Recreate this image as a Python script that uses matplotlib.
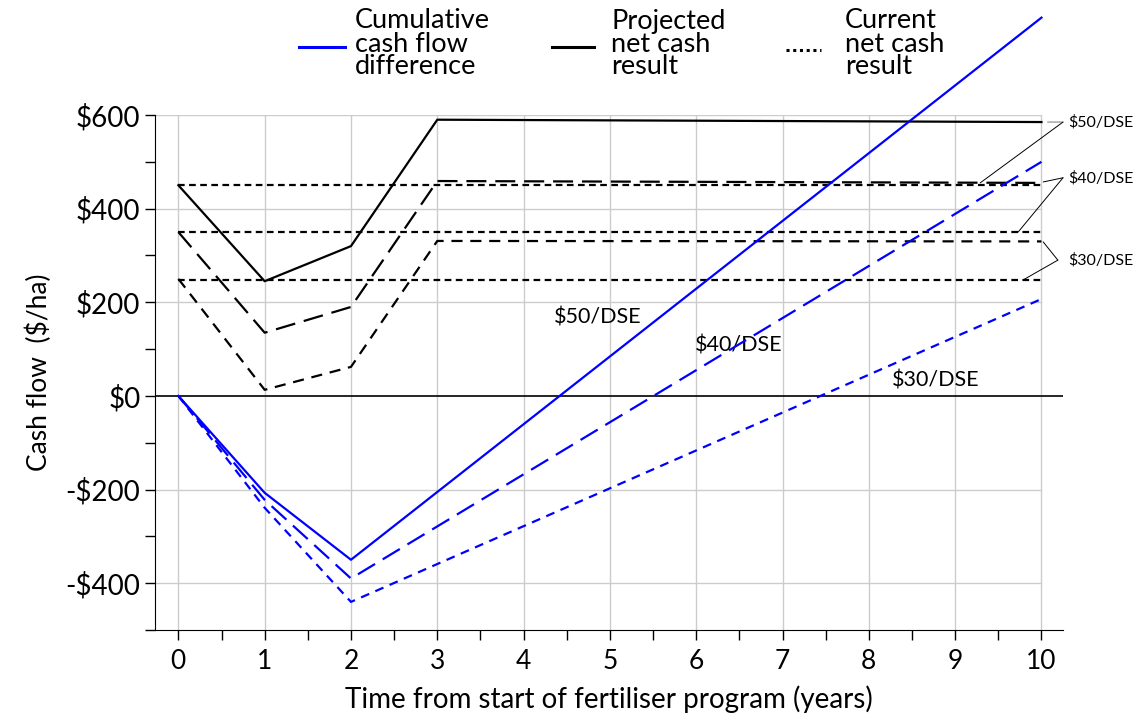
import matplotlib
matplotlib.use('Agg')
import matplotlib.pyplot as plt
from matplotlib.lines import Line2D
from matplotlib.ticker import MultipleLocator, FuncFormatter

plt.rcParams['font.family'] = ['Lato', 'DejaVu Sans']

# cumulative cash flow difference (blue), years 0,1,2 then straight to 10
cum_years = [0, 1, 2, 10]
cum_50 = [0, -207, -350, 808]
cum_40 = [0, -222, -390, 500]
cum_30 = [0, -239, -440, 207]

# projected net cash result (black)
proj_years = [0, 1, 2, 3, 10]
proj_50 = [450, 245, 320, 590, 585]
proj_40 = [350, 135, 190, 459, 455]
proj_30 = [250, 13, 62, 331, 330]

# current net cash result (flat)
cur_years = [0, 10]
cur_50 = 450
cur_40 = 350
cur_30 = 248

fig = plt.figure(figsize=(11.46, 7.18), dpi=100)
ax = fig.add_axes([0.1353, 0.1226, 0.7923, 0.7172])

blue = '#0000FF'
lw = 1.6

# gridlines
for y in [-400, -200, 200, 400, 600]:
    ax.plot([-0.27, 10], [y, y], color='#cccccc', lw=1, zorder=0)
for x in range(0, 11):
    ax.axvline(x, color='#cccccc', lw=1, zorder=0)
ax.axhline(0, color='black', lw=1.2, zorder=1)

# current net cash (short dashes)
for v in [cur_50, cur_40, cur_30]:
    ax.plot(cur_years, [v, v], color='black', lw=lw, dashes=(3, 2), zorder=2)

# projected
ax.plot(proj_years, proj_50, color='black', lw=lw, zorder=3)
ax.plot(proj_years, proj_40, color='black', lw=lw, dashes=(9, 4), zorder=3)
ax.plot(proj_years, proj_30, color='black', lw=lw, dashes=(5, 3.5), zorder=3)

# cumulative
ax.plot(cum_years, cum_50, color=blue, lw=lw, clip_on=False, zorder=4)
ax.plot(cum_years, cum_40, color=blue, lw=lw, dashes=(9, 4), clip_on=False, zorder=4)
ax.plot(cum_years, cum_30, color=blue, lw=lw, dashes=(4, 3), clip_on=False, zorder=4)

# labels on the blue lines
ax.text(4.86, 167, '$50/DSE', fontsize=15.5, ha='center', va='center')
ax.text(6.49, 107, '$40/DSE', fontsize=15.5, ha='center', va='center')
ax.text(8.77, 32, '$30/DSE', fontsize=15.5, ha='center', va='center')

# right-hand labels with leader lines
leader = dict(arrowstyle='-', color='black', lw=0.7, shrinkA=0, shrinkB=0)
ax.text(10.31, 585, '$50/DSE', fontsize=11.5, va='center', ha='left')
ax.annotate('', xy=(10.07, 585), xytext=(10.25, 585),
            arrowprops=dict(leader, color='#777777'), annotation_clip=False)
ax.annotate('', xy=(9.29, 455), xytext=(10.25, 585), arrowprops=leader, annotation_clip=False)
ax.text(10.31, 466, '$40/DSE', fontsize=11.5, va='center', ha='left')
ax.annotate('', xy=(10.02, 457), xytext=(10.25, 466), arrowprops=leader, annotation_clip=False)
ax.annotate('', xy=(9.73, 350), xytext=(10.25, 466), arrowprops=leader, annotation_clip=False)
ax.text(10.31, 290, '$30/DSE', fontsize=11.5, va='center', ha='left')
ax.annotate('', xy=(10.02, 329), xytext=(10.19, 290), arrowprops=leader, annotation_clip=False)
ax.annotate('', xy=(9.79, 248), xytext=(10.19, 290), arrowprops=leader, annotation_clip=False)

ax.set_xlim(-0.27, 10.25)
ax.set_ylim(-500, 600)
ax.spines['top'].set_visible(False)
ax.spines['right'].set_visible(False)
ax.spines['left'].set_bounds(-500, 600)

ax.xaxis.set_major_locator(MultipleLocator(1))
ax.xaxis.set_minor_locator(MultipleLocator(0.5))
ax.yaxis.set_major_locator(MultipleLocator(200))
ax.yaxis.set_minor_locator(MultipleLocator(100))
ax.yaxis.set_major_formatter(FuncFormatter(lambda v, p: ('-$%d' % -v) if v < 0 else '$%d' % v))
ax.tick_params(which='both', direction='out', length=7, width=1)
ax.tick_params(axis='y', labelsize=20)
ax.tick_params(axis='x', labelsize=19, pad=7)
ax.set_xticks(range(0, 11))

ax.set_xlabel('Time from start of fertiliser program (years)', fontsize=20, labelpad=8)
ax.set_ylabel('Cash flow  ($/ha)', fontsize=19, labelpad=10)

# legend drawn by hand at the top
ty = 1 - 44 / 718
fig.add_artist(Line2D([299 / 1146, 345 / 1146], [1 - 47 / 718] * 2, color=blue, lw=2.2))
fig.text(355 / 1146, ty, 'Cumulative\ncash flow\ndifference', fontsize=19.5,
         va='center', ha='left', linespacing=0.9)
fig.add_artist(Line2D([552 / 1146, 594 / 1146], [1 - 47 / 718] * 2, color='black', lw=2.2))
fig.text(611 / 1146, ty, 'Projected\nnet cash\nresult', fontsize=19.5,
         va='center', ha='left', linespacing=0.9)
fig.add_artist(Line2D([786 / 1146, 821 / 1146], [1 - 50 / 718] * 2, color='black', lw=2.2,
                      dashes=(1, 1.2)))
fig.text(845 / 1146, ty, 'Current\nnet cash\nresult', fontsize=19.5,
         va='center', ha='left', linespacing=0.9)

fig.savefig('out.png', dpi=100)
